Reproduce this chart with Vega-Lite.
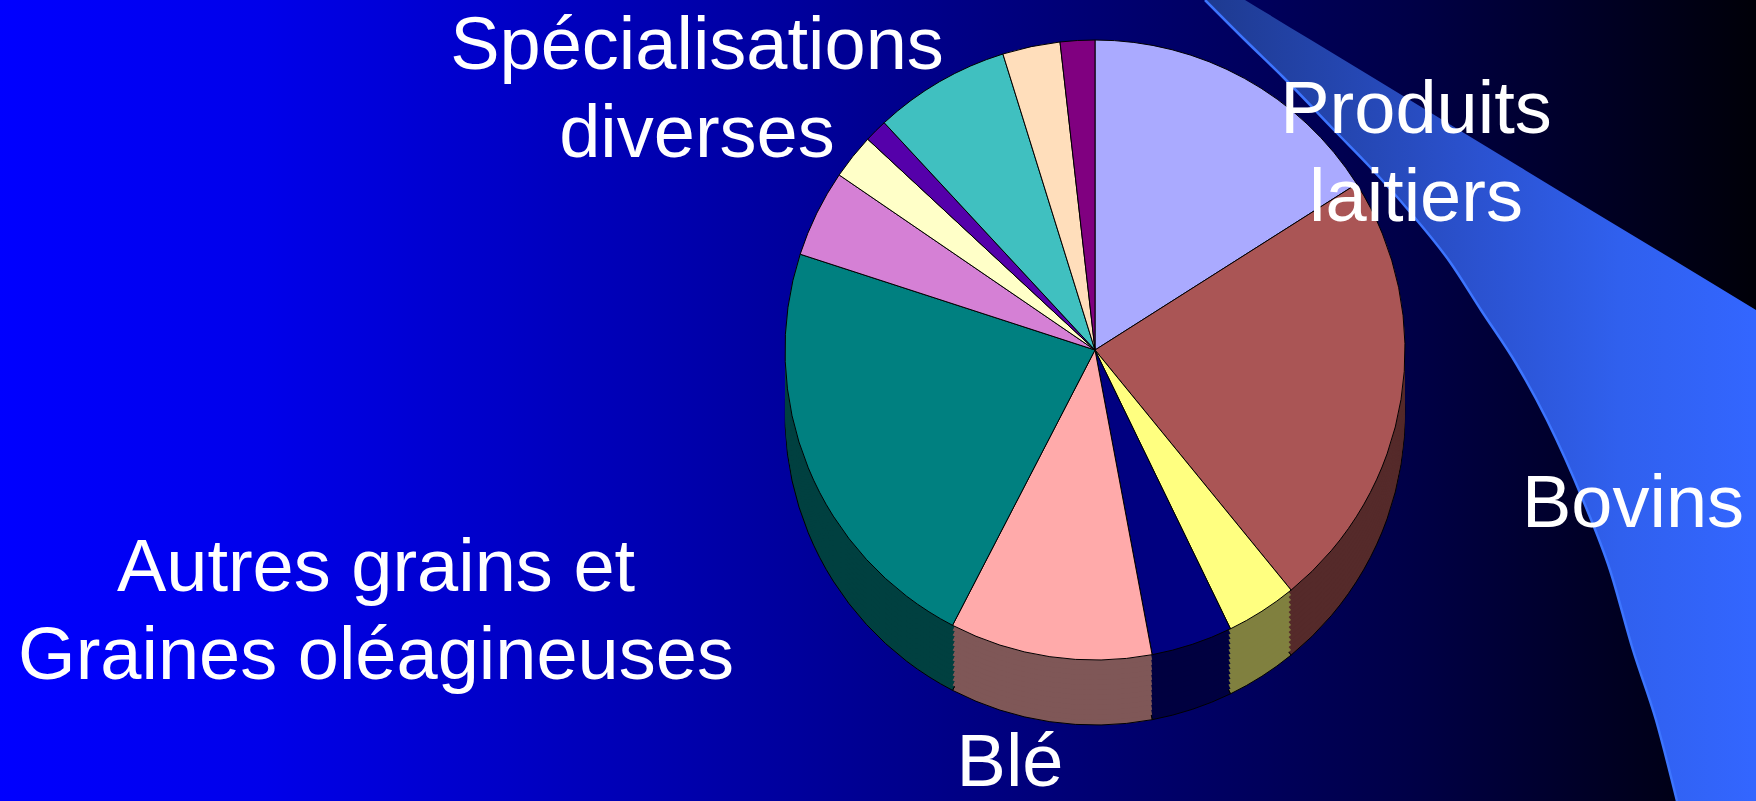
{
  "$schema": "https://vega.github.io/schema/vega-lite/v6.json",
  "width": 1756,
  "height": 801,
  "autosize": "none",
  "padding": 0,
  "background": "#000080",
  "config": {
    "view": {"stroke": null},
    "axis": {"disable": true},
    "text": {"font": "Liberation Sans"}
  },
  "datasets": {
    "parts": [
      {"secteur": "Produits laitiers", "part": 16.0, "ordre": 1},
      {"secteur": "Bovins", "part": 23.1, "ordre": 2},
      {"secteur": "Secteur 3", "part": 3.7, "ordre": 3},
      {"secteur": "Secteur 4", "part": 4.25, "ordre": 4},
      {"secteur": "Blé", "part": 10.55, "ordre": 5},
      {"secteur": "Autres grains et Graines oléagineuses", "part": 22.4, "ordre": 6},
      {"secteur": "Secteur 7", "part": 4.55, "ordre": 7},
      {"secteur": "Secteur 8", "part": 2.35, "ordre": 8},
      {"secteur": "Secteur 9", "part": 1.2, "ordre": 9},
      {"secteur": "Spécialisations diverses", "part": 7.1, "ordre": 10},
      {"secteur": "Secteur 11", "part": 3.0, "ordre": 11},
      {"secteur": "Secteur 12", "part": 1.8, "ordre": 12}
    ],
    "bande": [
      {"yy": 0, "xl": 1205, "xr": 1245},
      {"yy": 40, "xl": 1245, "xr": 1311},
      {"yy": 77, "xl": 1283, "xr": 1372},
      {"yy": 133, "xl": 1337, "xr": 1464},
      {"yy": 167, "xl": 1370, "xr": 1520},
      {"yy": 212, "xl": 1410, "xr": 1594},
      {"yy": 262, "xl": 1450, "xr": 1677},
      {"yy": 310, "xl": 1481, "xr": 1756},
      {"yy": 365, "xl": 1517, "xr": 1756},
      {"yy": 420, "xl": 1547, "xr": 1756},
      {"yy": 500, "xl": 1583, "xr": 1756},
      {"yy": 570, "xl": 1610, "xr": 1756},
      {"yy": 650, "xl": 1633, "xr": 1756},
      {"yy": 720, "xl": 1656, "xr": 1756},
      {"yy": 801, "xl": 1677, "xr": 1756}
    ],
    "etiquettes": [
      {"texte": "Spécialisations\ndiverses", "lx": 697, "ly": 69},
      {"texte": "Produits\nlaitiers", "lx": 1416, "ly": 133},
      {"texte": "Bovins", "lx": 1633, "ly": 527},
      {"texte": "Autres grains et\nGraines oléagineuses", "lx": 376, "ly": 591},
      {"texte": "Blé", "lx": 1010, "ly": 786}
    ]
  },
  "layer": [
    {
      "data": {"values": [{"a": 0}]},
      "mark": {
        "type": "rect",
        "fill": {
          "gradient": "linear", "x1": 0, "y1": 0, "x2": 1, "y2": 0,
          "stops": [
            {"offset": 0, "color": "#0000FF"},
            {"offset": 0.15, "color": "#0000EA"},
            {"offset": 0.5, "color": "#000090"},
            {"offset": 0.8, "color": "#000048"},
            {"offset": 1, "color": "#000008"}
          ]
        }
      },
      "encoding": {
        "x": {"datum": 0, "type": "quantitative", "scale": {"domain": [0, 1756], "nice": false, "zero": false}},
        "x2": {"datum": 1756},
        "y": {"datum": 0, "type": "quantitative", "scale": {"domain": [0, 801], "nice": false, "zero": false, "reverse": true}},
        "y2": {"datum": 801}
      }
    },
    {
      "data": {"name": "bande"},
      "transform": [{"filter": "datum.yy <= 310"}],
      "mark": {
        "type": "area",
        "orient": "horizontal",
        "interpolate": "monotone",
        "fill": {
          "gradient": "linear", "x1": 0, "y1": 0, "x2": 1, "y2": 0,
          "stops": [
            {"offset": 0, "color": "#1E3A90"},
            {"offset": 0.5, "color": "#2B52D0"},
            {"offset": 0.753, "color": "#3060EE"},
            {"offset": 1, "color": "#3366FF"}
          ]
        }
      },
      "encoding": {
        "y": {"field": "yy", "type": "quantitative"},
        "x": {"field": "xl", "type": "quantitative"},
        "x2": {"field": "xr"}
      }
    },
    {
      "data": {"name": "bande"},
      "transform": [{"filter": "datum.yy >= 310"}],
      "mark": {
        "type": "area",
        "orient": "horizontal",
        "interpolate": "monotone",
        "fill": {
          "gradient": "linear", "x1": 0, "y1": 0, "x2": 1, "y2": 0,
          "stops": [
            {"offset": 0, "color": "#2B52D0"},
            {"offset": 0.505, "color": "#3060EE"},
            {"offset": 1, "color": "#3366FF"}
          ]
        }
      },
      "encoding": {
        "y": {"field": "yy", "type": "quantitative"},
        "x": {"field": "xl", "type": "quantitative"},
        "x2": {"field": "xr"}
      }
    },
    {
      "data": {"name": "bande"},
      "mark": {"type": "line", "interpolate": "monotone", "color": "#3D75FF", "strokeWidth": 2.5},
      "encoding": {
        "y": {"field": "yy", "type": "quantitative"},
        "x": {"field": "xl", "type": "quantitative"},
        "order": {"field": "yy"}
      }
    },
    {
      "data": {"name": "parts"},
      "mark": {"type": "arc", "radius": 310, "stroke": "#000000", "strokeWidth": 1},
      "encoding": {
        "theta": {"field": "part", "type": "quantitative", "stack": true},
        "order": {"field": "ordre"},
        "x": {"datum": 1095},
        "y": {"datum": 415},
        "fill": {"field": "secteur", "type": "nominal", "legend": null, "scale": {
          "domain": ["Produits laitiers", "Bovins", "Secteur 3", "Secteur 4", "Blé", "Autres grains et Graines oléagineuses", "Secteur 7", "Secteur 8", "Secteur 9", "Spécialisations diverses", "Secteur 11", "Secteur 12"],
          "range": ["#55557F", "#552A2A", "#80803F", "#000040", "#7F5757", "#004040", "#6A406A", "#808064", "#2A0055", "#206060", "#806F5E", "#400040"]
        }}
      }
    },
    {"data": {"name": "parts"}, "mark": {"type": "arc", "radius": 310}, "encoding": {"theta": {"field": "part", "type": "quantitative", "stack": true}, "order": {"field": "ordre"}, "x": {"datum": 1095}, "y": {"datum": 410}, "fill": {"field": "secteur", "type": "nominal", "legend": null}}},
    {"data": {"name": "parts"}, "mark": {"type": "arc", "radius": 310}, "encoding": {"theta": {"field": "part", "type": "quantitative", "stack": true}, "order": {"field": "ordre"}, "x": {"datum": 1095}, "y": {"datum": 405}, "fill": {"field": "secteur", "type": "nominal", "legend": null}}},
    {"data": {"name": "parts"}, "mark": {"type": "arc", "radius": 310}, "encoding": {"theta": {"field": "part", "type": "quantitative", "stack": true}, "order": {"field": "ordre"}, "x": {"datum": 1095}, "y": {"datum": 400}, "fill": {"field": "secteur", "type": "nominal", "legend": null}}},
    {"data": {"name": "parts"}, "mark": {"type": "arc", "radius": 310}, "encoding": {"theta": {"field": "part", "type": "quantitative", "stack": true}, "order": {"field": "ordre"}, "x": {"datum": 1095}, "y": {"datum": 395}, "fill": {"field": "secteur", "type": "nominal", "legend": null}}},
    {"data": {"name": "parts"}, "mark": {"type": "arc", "radius": 310}, "encoding": {"theta": {"field": "part", "type": "quantitative", "stack": true}, "order": {"field": "ordre"}, "x": {"datum": 1095}, "y": {"datum": 390}, "fill": {"field": "secteur", "type": "nominal", "legend": null}}},
    {"data": {"name": "parts"}, "mark": {"type": "arc", "radius": 310}, "encoding": {"theta": {"field": "part", "type": "quantitative", "stack": true}, "order": {"field": "ordre"}, "x": {"datum": 1095}, "y": {"datum": 385}, "fill": {"field": "secteur", "type": "nominal", "legend": null}}},
    {"data": {"name": "parts"}, "mark": {"type": "arc", "radius": 310}, "encoding": {"theta": {"field": "part", "type": "quantitative", "stack": true}, "order": {"field": "ordre"}, "x": {"datum": 1095}, "y": {"datum": 380}, "fill": {"field": "secteur", "type": "nominal", "legend": null}}},
    {"data": {"name": "parts"}, "mark": {"type": "arc", "radius": 310}, "encoding": {"theta": {"field": "part", "type": "quantitative", "stack": true}, "order": {"field": "ordre"}, "x": {"datum": 1095}, "y": {"datum": 375}, "fill": {"field": "secteur", "type": "nominal", "legend": null}}},
    {"data": {"name": "parts"}, "mark": {"type": "arc", "radius": 310}, "encoding": {"theta": {"field": "part", "type": "quantitative", "stack": true}, "order": {"field": "ordre"}, "x": {"datum": 1095}, "y": {"datum": 370}, "fill": {"field": "secteur", "type": "nominal", "legend": null}}},
    {"data": {"name": "parts"}, "mark": {"type": "arc", "radius": 310}, "encoding": {"theta": {"field": "part", "type": "quantitative", "stack": true}, "order": {"field": "ordre"}, "x": {"datum": 1095}, "y": {"datum": 365}, "fill": {"field": "secteur", "type": "nominal", "legend": null}}},
    {"data": {"name": "parts"}, "mark": {"type": "arc", "radius": 310}, "encoding": {"theta": {"field": "part", "type": "quantitative", "stack": true}, "order": {"field": "ordre"}, "x": {"datum": 1095}, "y": {"datum": 360}, "fill": {"field": "secteur", "type": "nominal", "legend": null}}},
    {"data": {"name": "parts"}, "mark": {"type": "arc", "radius": 310}, "encoding": {"theta": {"field": "part", "type": "quantitative", "stack": true}, "order": {"field": "ordre"}, "x": {"datum": 1095}, "y": {"datum": 355}, "fill": {"field": "secteur", "type": "nominal", "legend": null}}},
    {
      "data": {"name": "parts"},
      "mark": {"type": "arc", "radius": 310, "stroke": "#000000", "strokeWidth": 1},
      "encoding": {
        "theta": {"field": "part", "type": "quantitative", "stack": true},
        "order": {"field": "ordre"},
        "x": {"datum": 1095},
        "y": {"datum": 350},
        "color": {"field": "secteur", "type": "nominal", "legend": null, "scale": {
          "domain": ["Produits laitiers", "Bovins", "Secteur 3", "Secteur 4", "Blé", "Autres grains et Graines oléagineuses", "Secteur 7", "Secteur 8", "Secteur 9", "Spécialisations diverses", "Secteur 11", "Secteur 12"],
          "range": ["#AAAAFF", "#AA5555", "#FFFF80", "#000080", "#FFAAAA", "#008080", "#D580D5", "#FFFFC8", "#5500AA", "#40C0C0", "#FFDEBB", "#800080"]
        }}
      }
    },
    {
      "data": {"name": "etiquettes"},
      "mark": {"type": "text", "color": "#FFFFFF", "fontSize": 74, "lineHeight": 88, "align": "center", "baseline": "alphabetic", "lineBreak": "\n"},
      "encoding": {
        "x": {"field": "lx", "type": "quantitative"},
        "y": {"field": "ly", "type": "quantitative"},
        "text": {"field": "texte"}
      }
    }
  ]
}
